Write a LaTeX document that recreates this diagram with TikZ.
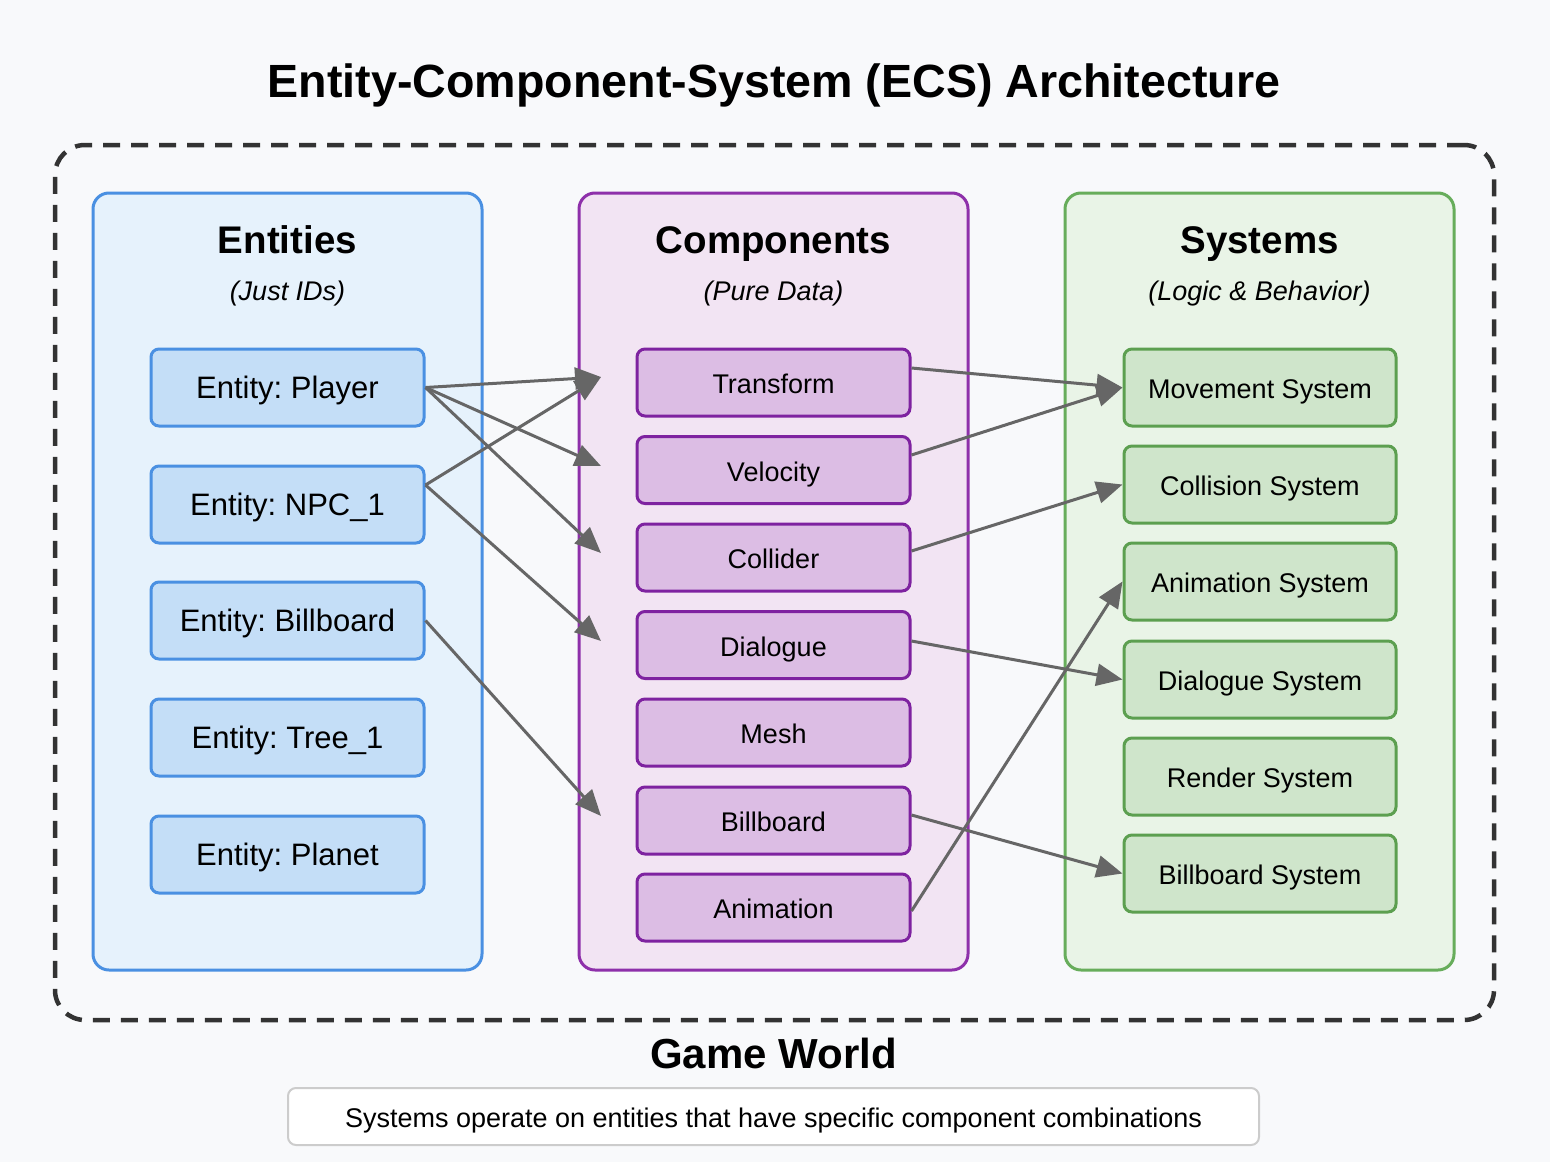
\documentclass[tikz,border=0pt]{standalone}
\usepackage{fontspec}
\setmainfont{Liberation Sans}
\usetikzlibrary{arrows.meta}
\frenchspacing
\definecolor{bgc}{HTML}{F8F9FB}
\definecolor{entfill}{HTML}{E6F2FC}
\definecolor{entstroke}{HTML}{4A90E2}
\definecolor{entbox}{HTML}{C4DEF7}
\definecolor{cmpfill}{HTML}{F2E4F3}
\definecolor{cmpstroke}{HTML}{8E30AA}
\definecolor{cmpbox}{HTML}{DCBDE4}
\definecolor{cmpboxstroke}{HTML}{7E22A0}
\definecolor{sysfill}{HTML}{E9F4E7}
\definecolor{sysstroke}{HTML}{67AD5B}
\definecolor{sysbox}{HTML}{CFE5CB}
\definecolor{sysboxstroke}{HTML}{5C9F50}
\definecolor{arrowc}{HTML}{666666}
\definecolor{dashc}{HTML}{333333}
\begin{document}
\begin{tikzpicture}[x=1pt,y=-1pt,
  tx27/.style={font=\fontsize{27}{32}\selectfont, text height=26.4pt, text depth=3.7pt},
  tx31/.style={font=\fontsize{31}{36}\selectfont, text height=28.1pt, text depth=6.6pt},
  panel/.style={rounded corners=16pt, line width=3pt, minimum width=389pt, minimum height=777pt, inner sep=0pt},
  ebox/.style={draw=entstroke, fill=entbox, rounded corners=8pt, line width=3pt, minimum width=273pt, minimum height=77pt, inner sep=0pt, tx31},
  cbox/.style={draw=cmpboxstroke, fill=cmpbox, rounded corners=8pt, line width=3pt, minimum width=273pt, minimum height=67pt, inner sep=0pt, tx27},
  sbox/.style={draw=sysboxstroke, fill=sysbox, rounded corners=8pt, line width=3pt, minimum width=272pt, minimum height=77pt, inner sep=0pt, tx27},
  ptitle/.style={font=\fontsize{38.5}{44}\selectfont\bfseries, text height=34.8pt, text depth=8.2pt},
  psub/.style={font=\fontsize{27}{32}\selectfont\itshape, text height=24.4pt, text depth=5.7pt},
  conn/.style={draw=arrowc, line width=3pt, -{Triangle[length=26pt,width=22pt]}}
]
\useasboundingbox (0,0) rectangle (1550,1162);
\fill[bgc] (0,0) rectangle (1550,1162);

\node[font=\fontsize{46.6}{52}\selectfont\bfseries, text height=42.2pt, text depth=9.9pt] (title) at (774,81) {Entity-Component-System (ECS) Architecture};

\node[draw=dashc, line width=4.5pt, dash pattern=on 17pt off 11pt, rounded corners=30pt, minimum width=1439pt, minimum height=875pt, inner sep=0pt] (world) at (774.5,582.5) {};

\node[panel, draw=entstroke, fill=entfill] (pent) at (287.5,581.5) {};
\node[panel, draw=cmpstroke, fill=cmpfill] (pcmp) at (773.5,581.5) {};
\node[panel, draw=sysstroke, fill=sysfill] (psys) at (1259.5,581.5) {};

\node[ptitle] (tent) at (287.5,240) {Entities};
\node[psub] (sent) at (287.5,291) {(Just IDs)};
\node[ptitle] (tcmp) at (773.5,240) {Components};
\node[psub] (scmp) at (773.5,291) {(Pure Data)};
\node[ptitle] (tsys) at (1259.5,240) {Systems};
\node[psub] (ssys) at (1259.5,291) {(Logic \& Behavior)};

% entities
\node[ebox] (eplayer) at (287.5,387.5) {Entity: Player};
\node[ebox] (enpc) at (287.5,504.5) {Entity: NPC\_1};
\node[ebox] (ebill) at (287.5,620.5) {Entity: Billboard};
\node[ebox] (etree) at (287.5,737.5) {Entity: Tree\_1};
\node[ebox] (eplanet) at (287.5,854.5) {Entity: Planet};

% components
\node[cbox] (ctrans) at (773.5,382.5) {Transform};
\node[cbox] (cvel) at (773.5,470) {Velocity};
\node[cbox] (ccoll) at (773.5,557.5) {Collider};
\node[cbox] (cdial) at (773.5,645) {Dialogue};
\node[cbox] (cmesh) at (773.5,732.5) {Mesh};
\node[cbox] (cbill) at (773.5,820.5) {Billboard};
\node[cbox] (canim) at (773.5,907.5) {Animation};

% systems
\node[sbox] (smove) at (1260,387.5) {Movement System};
\node[sbox] (scoll) at (1260,484.5) {Collision System};
\node[sbox] (sanim) at (1260,581.5) {Animation System};
\node[sbox] (sdial) at (1260,679.5) {Dialogue System};
\node[sbox] (srend) at (1260,776.5) {Render System};
\node[sbox] (sbill) at (1260,873.5) {Billboard System};

% arrow targets inside the components panel
\coordinate (ttrans) at (601,377);
\coordinate (tvel) at (601,466);
\coordinate (tcoll) at (601,553);
\coordinate (tdial) at (601,641);
\coordinate (tbill) at (601,816);

% entity -> component
\draw[conn] (eplayer.east) -- (ttrans);
\draw[conn] (eplayer.east) -- (tvel);
\draw[conn] (eplayer.east) -- (tcoll);
\draw[conn] ([yshift=19.5pt]enpc.east) -- (ttrans);
\draw[conn] ([yshift=19.5pt]enpc.east) -- (tdial);
\draw[conn] (ebill.east) -- (tbill);

% component -> system
\draw[conn] ([yshift=14.5pt]ctrans.east) -- (smove.west);
\draw[conn] ([yshift=15pt]cvel.east) -- (smove.west);
\draw[conn] ([yshift=6.5pt]ccoll.east) -- (scoll.west);
\draw[conn] ([yshift=4pt]cdial.east) -- (sdial.west);
\draw[conn] ([yshift=5.5pt]cbill.east) -- (sbill.west);
\draw[conn] ([yshift=-3.5pt]canim.east) -- (sanim.west);

\node[font=\fontsize{42}{48}\selectfont\bfseries, text height=38pt, text depth=8.9pt] (gw) at (773.5,1054) {Game World};
\node[draw=black!20, fill=white, line width=2pt, rounded corners=8pt, minimum width=971pt, minimum height=57pt, inner sep=0pt, tx27] (note) at (773.5,1116.5) {Systems operate on entities that have specific component combinations};
\end{tikzpicture}
\end{document}
